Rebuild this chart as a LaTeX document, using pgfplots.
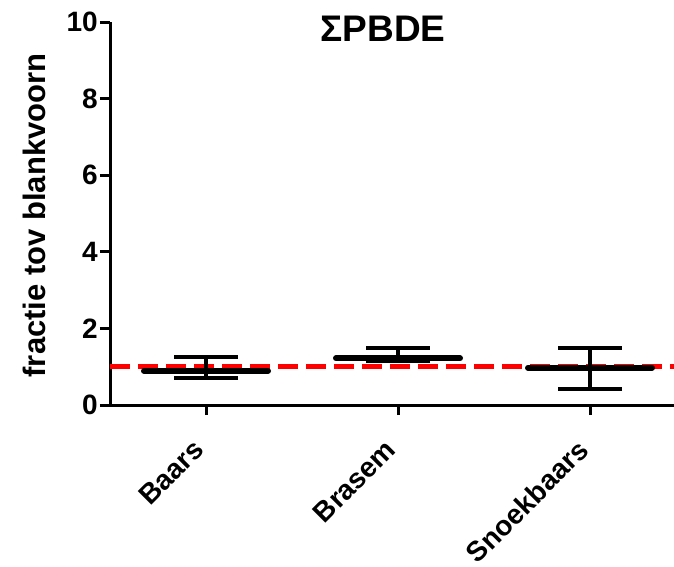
\documentclass[border=0pt]{standalone}
\usepackage{fontspec}
\setmainfont{Liberation Sans}
\usepackage{pgfplots}
\pgfplotsset{compat=1.18}
\begin{document}
\begin{tikzpicture}
\begin{axis}[
  at={(110pt,161pt)}, anchor=south west,
  scale only axis, width=564pt, height=383pt,
  xmin=-0.5, xmax=2.4375, ymin=0, ymax=10,
  axis x line*=bottom, axis y line*=left,
  axis line style={line width=3pt, black},
  xtick={0,1,2}, xticklabels={Baars,Brasem,Snoekbaars},
  ytick={0,2,4,6,8,10},
  tick align=outside, major tick length=10pt,
  tick style={line width=3pt, black},
  /pgf/number format/assume math mode=true,
  yticklabel style={font=\fontsize{28}{28}\selectfont\bfseries, inner sep=2pt},
  xticklabel style={font=\fontsize{28}{28}\selectfont\bfseries, rotate=45, anchor=north east, inner sep=2pt, xshift=-24pt, yshift=-4pt},
  ylabel={fractie tov blankvoorn},
  ylabel style={font=\fontsize{31}{31}\selectfont\bfseries, at={(axis description cs:0,0.495)}, anchor=center, yshift=76pt},
  clip=false,
]
\addplot[red, line width=5pt, dash pattern=on 20pt off 8pt] coordinates {(-0.5,1) (2.4375,1)};
\addplot[black, only marks, mark=none,
  error bars/.cd, y dir=both, y explicit,
  error mark=|,
  error bar style={line width=4pt, black, solid},
  error mark options={line width=4pt, mark size=32pt, black, solid}]
  coordinates {
  (0,0.89) += (0,0.37) -= (0,0.18)
  (1,1.22) += (0,0.27) -= (0,0.07)
  (2,0.97) += (0,0.51) -= (0,0.55)
  };
\addplot[black, only marks, mark=-, mark size=62pt, mark options={line width=6pt, line cap=round, solid}]
  coordinates {(0,0.89) (1,1.22) (2,0.97)};
\end{axis}
\node[anchor=base, inner sep=0pt, font=\fontsize{37}{37}\selectfont\bfseries] at (383pt,524pt) {ΣPBDE};
\pgfresetboundingbox
\useasboundingbox (0,0) rectangle (674pt,566pt);
\end{tikzpicture}
\end{document}
